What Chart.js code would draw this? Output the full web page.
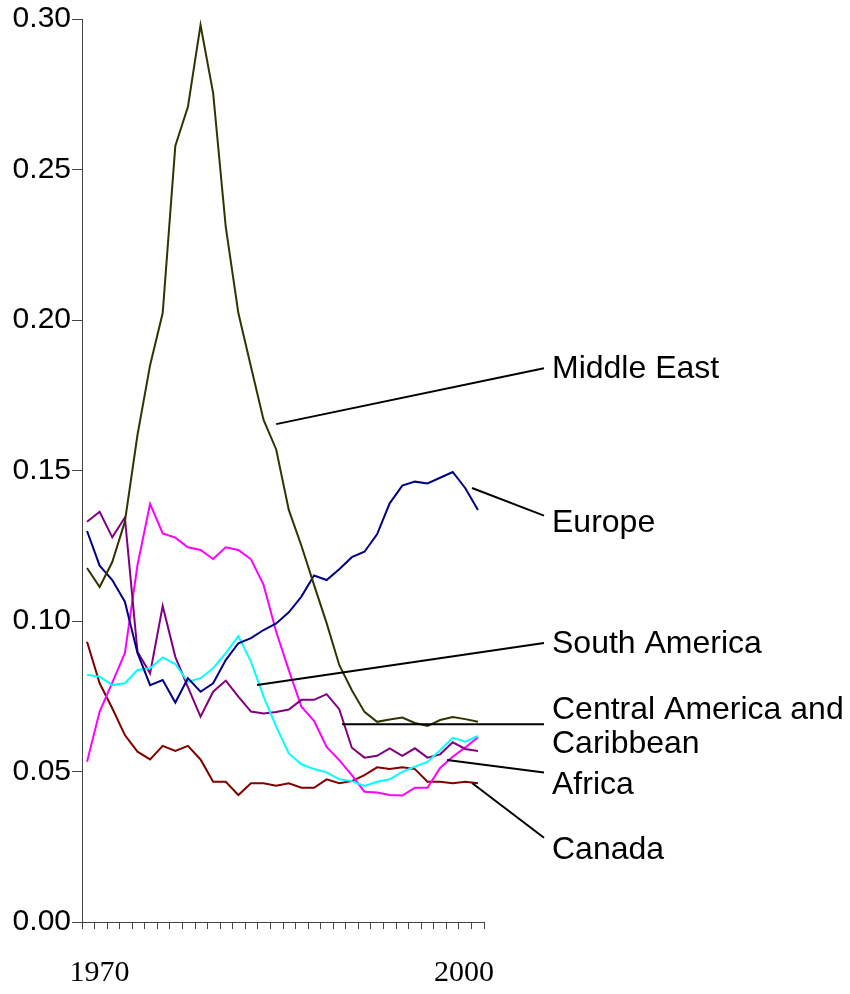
<!DOCTYPE html>
<html>
<head>
<meta charset="utf-8">
<script src="https://cdn.jsdelivr.net/npm/chart.js@4.4.1/dist/chart.umd.min.js"></script>
<style>
  body { margin: 0; background: #fff; }
</style>
</head>
<body>
<canvas id="chart" width="850" height="994"></canvas>
<script>
const years = [1970, 1971, 1972, 1973, 1974, 1975, 1976, 1977, 1978, 1979,
               1980, 1981, 1982, 1983, 1984, 1985, 1986, 1987, 1988, 1989,
               1990, 1991, 1992, 1993, 1994, 1995, 1996, 1997, 1998, 1999,
               2000, 2001];

const middleEast = [0.1176, 0.1113, 0.1196, 0.1330, 0.1618, 0.1850, 0.2023, 0.2578, 0.2708, 0.2980,
                    0.2754, 0.2309, 0.2023, 0.1845, 0.1668, 0.1570, 0.1369, 0.1250, 0.1120, 0.0993,
                    0.0854, 0.0770, 0.0698, 0.0665, 0.0673, 0.0679, 0.0661, 0.0651, 0.0671, 0.0681,
                    0.0674, 0.0665];
const europe = [0.1299, 0.1184, 0.1136, 0.1064, 0.0894, 0.0787, 0.0804, 0.0729, 0.0810, 0.0765,
                0.0793, 0.0870, 0.0926, 0.0943, 0.0970, 0.0992, 0.1029, 0.1081, 0.1151, 0.1136,
                0.1172, 0.1212, 0.1230, 0.1288, 0.1391, 0.1450, 0.1463, 0.1457, 0.1476, 0.1495,
                0.1441, 0.1369];
const southAmerica = [0.0821, 0.0815, 0.0787, 0.0793, 0.0837, 0.0843, 0.0879, 0.0857, 0.0798, 0.0810,
                      0.0843, 0.0893, 0.0950, 0.0865, 0.0749, 0.0649, 0.0560, 0.0524, 0.0508, 0.0497,
                      0.0474, 0.0468, 0.0452, 0.0466, 0.0474, 0.0499, 0.0516, 0.0532, 0.0571, 0.0612,
                      0.0599, 0.0618];
const centralAmerica = [0.1330, 0.1363, 0.1278, 0.1344, 0.0898, 0.0826, 0.1050, 0.0881, 0.0780, 0.0682,
                        0.0765, 0.0802, 0.0749, 0.0699, 0.0693, 0.0698, 0.0706, 0.0738, 0.0738, 0.0757,
                        0.0707, 0.0579, 0.0546, 0.0552, 0.0577, 0.0552, 0.0577, 0.0546, 0.0557, 0.0597,
                        0.0575, 0.0568];
const africa = [0.0532, 0.0699, 0.0795, 0.0893, 0.1186, 0.1389, 0.1291, 0.1277, 0.1245, 0.1236,
                0.1206, 0.1245, 0.1236, 0.1205, 0.1120, 0.0964, 0.0837, 0.0715, 0.0668, 0.0582,
                0.0538, 0.0488, 0.0433, 0.0430, 0.0422, 0.0420, 0.0446, 0.0446, 0.0512, 0.0549,
                0.0580, 0.0614];
const canada = [0.0931, 0.0793, 0.0710, 0.0621, 0.0566, 0.0540, 0.0585, 0.0568, 0.0585, 0.0540,
                0.0466, 0.0466, 0.0422, 0.0461, 0.0461, 0.0453, 0.0461, 0.0446, 0.0446, 0.0474,
                0.0461, 0.0468, 0.0488, 0.0514, 0.0508, 0.0514, 0.0508, 0.0466, 0.0466, 0.0461,
                0.0466, 0.0461];

const xTickLabels = ['1970', '2000'];

// label text, where the pointer touches the curve (year, value), and the value the text sits at
const regionLabels = [
    { lines: ['Middle East'], year: 1985.0, value: 0.1654, endValue: 0.1840, textValue: 0.1837 },
    { lines: ['Europe'], year: 2000.53, value: 0.1442, endValue: 0.1350, textValue: 0.1324 },
    { lines: ['South America'], year: 1983.48, value: 0.0787, endValue: 0.0927, textValue: 0.0922 },
    { lines: ['Central America and', 'Caribbean'], year: 1990.22, value: 0.0657, endValue: 0.0657, textValue: 0.0705 },
    { lines: ['Africa'], year: 1998.55, value: 0.0538, endValue: 0.0497, textValue: 0.0455 },
    { lines: ['Canada'], year: 2000.53, value: 0.0462, endValue: 0.0280, textValue: 0.0240 }
];

function series(values) {
    return years.map((yr, i) => ({ x: yr, y: values[i] }));
}

const sansFont = '"Liberation Sans", Arial, sans-serif';
const serifFont = '"Liberation Serif", "Times New Roman", serif';

const labelPlugin = {
    id: 'regionLabels',
    afterDraw(chart) {
        const ctx = chart.ctx;
        const xs = chart.scales.x;
        const ys = chart.scales.y;
        const textX = chart.chartArea.right + 68;
        const endX = chart.chartArea.right + 60;
        ctx.save();
        ctx.strokeStyle = '#000';
        ctx.lineWidth = 2;
        ctx.fillStyle = '#000';
        ctx.font = '32px ' + sansFont;
        ctx.textBaseline = 'middle';
        ctx.textAlign = 'left';
        regionLabels.forEach(function(l) {
            ctx.beginPath();
            ctx.moveTo(xs.getPixelForValue(l.year), ys.getPixelForValue(l.value));
            ctx.lineTo(endX, ys.getPixelForValue(l.endValue));
            ctx.stroke();
            const ty = ys.getPixelForValue(l.textValue);
            l.lines.forEach(function(t, i) {
                ctx.fillText(t, textX, ty + i * 34);
            });
        });
        ctx.restore();
    }
};

const xMin = 1969.6;
const xMax = 2001.48;

new Chart(document.getElementById('chart'), {
    type: 'line',
    data: {
        datasets: [
            { label: 'Middle East', data: series(middleEast), borderColor: '#333300' },
            { label: 'Europe', data: series(europe), borderColor: '#000080' },
            { label: 'South America', data: series(southAmerica), borderColor: '#00ffff' },
            { label: 'Central America and Caribbean', data: series(centralAmerica), borderColor: '#800080' },
            { label: 'Africa', data: series(africa), borderColor: '#ff00ff' },
            { label: 'Canada', data: series(canada), borderColor: '#800000' }
        ]
    },
    options: {
        responsive: false,
        animation: false,
        devicePixelRatio: 1,
        layout: { padding: { top: 19, right: 366, bottom: 0, left: 0 } },
        elements: {
            line: { borderWidth: 2, tension: 0, fill: false },
            point: { radius: 0 }
        },
        plugins: {
            legend: { display: false },
            tooltip: { enabled: false }
        },
        scales: {
            x: {
                type: 'linear',
                min: xMin,
                max: xMax,
                afterBuildTicks(scale) {
                    const t = [];
                    for (let k = 0; k <= 32; k++) {
                        t.push({ value: xMin + k * (xMax - xMin) / 32 });
                    }
                    scale.ticks = t;
                },
                afterFit(scale) { scale.height = 72; },
                grid: { drawOnChartArea: false, tickLength: 7, color: '#444' },
                border: { color: '#444', width: 1 },
                ticks: {
                    autoSkip: false,
                    maxRotation: 0,
                    padding: 26,
                    labelOffset: 5,
                    color: '#000',
                    font: { family: serifFont, size: 30 },
                    callback: function(v, i) {
                        if (i === 1) return xTickLabels[0];
                        if (i === 30) return xTickLabels[1];
                        return '';
                    }
                }
            },
            y: {
                min: 0,
                max: 0.3,
                afterFit(scale) { scale.width = 82; },
                grid: { drawOnChartArea: false, tickLength: 10, color: '#444' },
                border: { color: '#444', width: 1 },
                ticks: {
                    stepSize: 0.05,
                    padding: 1,
                    color: '#000',
                    font: { family: sansFont, size: 30 },
                    callback: function(v) { return v.toFixed(2); }
                }
            }
        }
    },
    plugins: [labelPlugin]
});
</script>
</body>
</html>
